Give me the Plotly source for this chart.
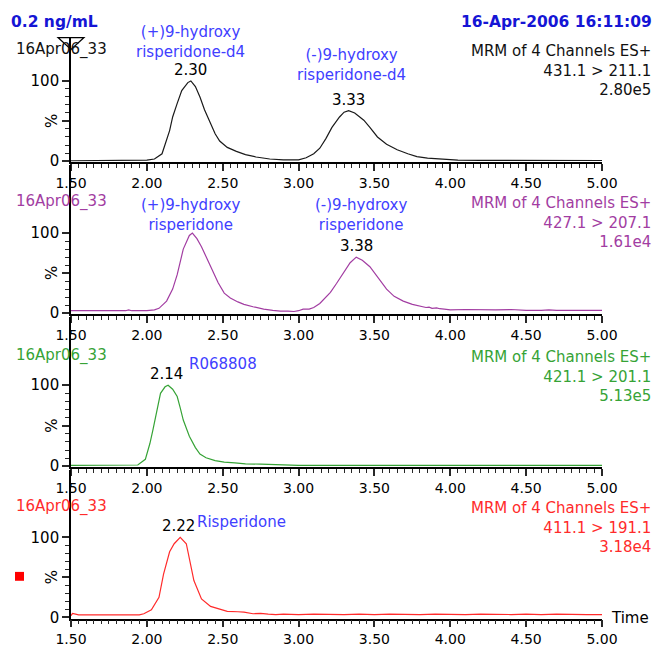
import plotly.graph_objects as go

# ---------------- data ----------------
t_431 = [1.50, 1.60, 1.70, 1.80, 1.90, 2.00, 2.05, 2.10, 2.15, 2.17, 2.20, 2.23, 2.27, 2.29,
         2.32, 2.35, 2.38, 2.42, 2.45, 2.48, 2.53, 2.59, 2.65, 2.72, 2.81, 2.90, 3.00, 3.05,
         3.10, 3.14, 3.18, 3.22, 3.27, 3.30, 3.33, 3.37, 3.43, 3.47, 3.52, 3.58, 3.65, 3.72,
         3.78, 3.85, 3.95, 4.05, 4.20, 4.40, 4.60, 4.80, 5.00]
i_431 = [0.3, 0.3, 0.3, 0.3, 0.4, 1.0, 2.5, 9, 38, 55, 72, 88, 98, 100,
         93, 80, 64, 46, 34, 25, 17, 12, 8, 5, 2.5, 1.5, 1.5, 4,
         9, 16, 28, 42, 55, 61, 63, 60, 51, 42, 30, 21, 14, 9,
         5.5, 3.5, 2, 1.2, 0.8, 0.7, 0.6, 0.6, 0.6]

t_427 = [1.50, 1.60, 1.70, 1.80, 1.86, 1.88, 1.90, 2.00, 2.05, 2.08, 2.13, 2.17, 2.20, 2.24,
         2.28, 2.30, 2.33, 2.36, 2.40, 2.43, 2.47, 2.51, 2.55, 2.60, 2.64, 2.70, 2.77, 2.83,
         2.88, 2.93, 2.97, 3.00, 3.03, 3.07, 3.10, 3.14, 3.18, 3.21, 3.25, 3.30, 3.34, 3.38,
         3.42, 3.47, 3.52, 3.58, 3.63, 3.69, 3.75, 3.80, 3.84, 3.86, 3.88, 3.91, 3.93, 3.96,
         4.00, 4.10, 4.20, 4.30, 4.40, 4.50, 4.60, 4.65, 4.70, 4.80, 4.85, 4.90, 5.00]
i_427 = [3, 3, 3, 3, 3, 4, 3, 3, 4, 6, 15, 30, 48, 80,
         97, 100, 93, 83, 67, 54, 38, 25, 19, 14, 11, 8, 5, 3.5,
         2.5, 2.5, 2, 3, 5, 5, 7, 12, 20, 26, 37, 52, 63, 70,
         66, 58, 45, 30, 21, 15, 11, 9, 7, 7.5, 6, 6.5, 5.5, 5,
         4, 4.5, 4, 4, 4.5, 3.5, 3.5, 4, 3.5, 3.5, 4, 3.5, 3.5]

t_421 = [1.50, 1.70, 1.90, 1.94, 1.99, 2.02, 2.04, 2.07, 2.09, 2.12, 2.14, 2.17, 2.20, 2.22,
         2.24, 2.28, 2.32, 2.35, 2.39, 2.45, 2.51, 2.58, 2.65, 2.75, 2.84, 2.86, 3.00, 3.50,
         4.00, 4.50, 5.00]
i_421 = [1, 1, 1, 1.5, 8.5, 28, 45, 72, 90, 98, 100, 95, 86, 72,
         57, 37, 23, 15, 10.5, 7, 5, 4, 3, 2.5, 2, 1, 1, 1,
         1, 1, 1]

t_411 = [1.50, 1.51, 1.53, 1.55, 1.60, 1.70, 1.80, 1.90, 1.95, 1.98, 2.03, 2.08, 2.11, 2.15,
         2.18, 2.22, 2.26, 2.31, 2.36, 2.42, 2.48, 2.53, 2.60, 2.64, 2.70, 2.75, 2.80, 2.85,
         2.90, 2.95, 3.00, 3.10, 3.20, 3.30, 3.40, 3.50, 3.60, 3.70, 3.80, 3.90, 4.00, 4.10,
         4.20, 4.30, 4.40, 4.50, 4.60, 4.70, 4.80, 4.90, 5.00]
i_411 = [2, 5, 4, 3, 3, 3, 3, 3, 3, 4.5, 9.5, 25, 54, 82,
         92, 100, 92, 46, 23, 13.6, 10.7, 7.4, 7, 6.6, 4.5, 5, 4, 3.5,
         4, 3.5, 3.5, 4, 3.5, 3.5, 4, 3.5, 4, 3.5, 3.5, 4, 3.5, 3.5,
         4, 3.5, 3.5, 4, 3.5, 4, 3.5, 3.5, 3.5]

channels = ["431.1 > 211.1", "427.1 > 207.1", "421.1 > 201.1", "411.1 > 191.1"]
intensities = ["2.80e5", "1.61e4", "5.13e5", "3.18e4"]
sample_name = "16Apr06_33"
peak_rt = [["2.30", "3.33"], ["3.38"], ["2.14"], ["2.22"]]
peak_rt_x = [[2.29, 3.33], [3.38], [2.13], [2.21]]
peak_rt_y = [[100, 63], [70], [100], [100]]

# ---------------- layout helpers ----------------
W, H = 655, 652
L, R = 71, 53
def px(xp):
    return (xp - L) / (W - L - R)
def py(yp):
    return 1 - yp / H

FONT = "DejaVu Sans"
BLACK = "#111111"
PURPLE = "#a23da2"
GREEN = "#36a336"
RED = "#ff2b2b"
LBLUE = "#4040ff"
HBLUE = "#1515d5"
TICKC = "rgb(40,40,40)"

series = [(t_431, i_431, "#1a1a1a", BLACK),
          (t_427, i_427, PURPLE, PURPLE),
          (t_421, i_421, GREEN, GREEN),
          (t_411, i_411, RED, RED)]
geom = [(163, 82, 38), (317, 236, 167), (472, 390, 321), (625, 544, 476)]

fig = go.Figure()
annotations = []
shapes = []
major_x = [round(1.5 + 0.25 * k, 2) for k in range(15)]
major_x_text = [f"{v:.2f}" if abs((v * 2) - round(v * 2)) < 1e-9 else "" for v in major_x]
minor_x = [round(1.5 + 0.05 * k, 2) for k in range(71)]
minor_y = [10, 20, 30, 40, 60, 70, 80, 90]

for k, ((tx, iy, lc, tc), (z, h, top)) in enumerate(zip(series, geom)):
    n = k + 1
    xa = "x" if n == 1 else f"x{n}"
    ya = "y" if n == 1 else f"y{n}"
    fig.add_trace(go.Scatter(x=tx, y=iy, mode="lines", line=dict(color=lc, width=1.2),
                             xaxis=xa, yaxis=ya, showlegend=False, hoverinfo="skip"))
    scale = (z - h) / 100.0
    ymin = -1.5
    bottom = z + 1.5 * scale
    ymax = (z - top) / scale
    dom = [py(bottom), py(top)]
    xk = "xaxis" if n == 1 else f"xaxis{n}"
    yk = "yaxis" if n == 1 else f"yaxis{n}"
    xd = dict(domain=[0, 1], anchor=ya, range=[1.5, 5.0],
              tickmode="array", tickvals=major_x, ticktext=major_x_text,
              ticks="outside", ticklen=7, tickwidth=1.5, tickcolor=TICKC,
              showline=True, linecolor="black", linewidth=1.6,
              showgrid=False, zeroline=False,
              tickfont=dict(family=FONT, size=14, color="black"),
              minor=dict(tickmode="array", tickvals=minor_x, ticks="outside", ticklen=4,
                         tickwidth=1.2, tickcolor=TICKC, showgrid=False))
    yd = dict(domain=dom, anchor=xa, range=[ymin, ymax],
              tickmode="array", tickvals=[0, 50, 100], ticktext=["0", "", "100"],
              ticks="outside", ticklen=7, tickwidth=1.5, tickcolor=TICKC,
              showline=True, linecolor="black", linewidth=1.6,
              showgrid=False, zeroline=False,
              tickfont=dict(family=FONT, size=15, color="black"),
              minor=dict(tickmode="array", tickvals=minor_y, ticks="outside", ticklen=4,
                         tickwidth=1.2, tickcolor=TICKC, showgrid=False))
    fig.update_layout({xk: xd, yk: yd})
    annotations.append(dict(text="%", xref="paper", yref=ya, x=px(52), y=50, textangle=-90,
                            xanchor="center", yanchor="middle",
                            showarrow=False, font=dict(family=FONT, size=15, color="black")))
    lab_y = [50, 204, 360, 513][k]
    annotations.append(dict(text=sample_name, xref="paper", yref="paper", x=px(14), y=py(lab_y),
                            xanchor="left", yanchor="middle", showarrow=False,
                            font=dict(family=FONT, size=15, color=tc)))
    annotations.append(dict(text="MRM of 4 Channels ES+<br>" + channels[k] + "<br>" + intensities[k],
                            xref="paper", yref="paper", x=px(653), y=py(lab_y - 10),
                            xanchor="right", yanchor="top", align="right", showarrow=False,
                            font=dict(family=FONT, size=15, color=tc)))
    for txt, xv, yv in zip(peak_rt[k], peak_rt_x[k], peak_rt_y[k]):
        annotations.append(dict(text=txt, xref=xa, yref=ya, x=xv, y=yv, xanchor="center",
                                yanchor="bottom", showarrow=False,
                                font=dict(family=FONT, size=15, color="black")))

annotations += [
    dict(text="(+)9-hydroxy<br>risperidone-d4", xref="x", yref="paper", x=2.29, y=py(43),
         font=dict(family=FONT, size=15, color=LBLUE)),
    dict(text="(-)9-hydroxy<br>risperidone-d4", xref="x", yref="paper", x=3.35, y=py(66),
         font=dict(family=FONT, size=15, color=LBLUE)),
    dict(text="(+)9-hydroxy<br>risperidone", xref="x2", yref="paper", x=2.29, y=py(218),
         font=dict(family=FONT, size=15, color=LBLUE)),
    dict(text="(-)9-hydroxy<br>risperidone", xref="x2", yref="paper", x=3.41, y=py(218),
         font=dict(family=FONT, size=15, color=LBLUE)),
    dict(text="R068808", xref="x3", yref="paper", x=2.50, y=py(369),
         font=dict(family=FONT, size=15, color=LBLUE)),
    dict(text="Risperidone", xref="paper", yref="paper", x=px(195), y=py(528), xanchor="left",
         font=dict(family=FONT, size=15, color=LBLUE)),
]
for a in annotations[-6:]:
    a["showarrow"] = False
    a.setdefault("xanchor", "center")
    a["yanchor"] = "middle"

annotations += [
    dict(text="<b>0.2 ng/mL</b>", xref="paper", yref="paper", x=px(9), y=py(22),
         xanchor="left", yanchor="middle", showarrow=False,
         font=dict(family=FONT, size=15.5, color=HBLUE)),
    dict(text="<b>16-Apr-2006 16:11:09</b>", xref="paper", yref="paper", x=px(654), y=py(22),
         xanchor="right", yanchor="middle", showarrow=False,
         font=dict(family=FONT, size=15.5, color=HBLUE)),
    dict(text="Time", xref="paper", yref="paper", x=px(609), y=py(626),
         xanchor="left", yanchor="middle", showarrow=False,
         font=dict(family=FONT, size=15, color="black")),
]

tri = "M{0},{1} L{2},{1} L{3},{4} Z".format(px(58), py(38), px(84), px(71), py(50))
shapes += [
    dict(type="path", xref="paper", yref="paper", path=tri,
         line=dict(color="black", width=1.2), fillcolor="rgba(0,0,0,0)"),
    dict(type="rect", xref="paper", yref="paper", x0=px(15), x1=px(24), y0=py(588), y1=py(579),
         fillcolor="#ff0000", line=dict(width=0)),
]

fig.update_layout(width=W, height=H, margin=dict(l=L, r=R, t=0, b=0),
                  paper_bgcolor="white", plot_bgcolor="rgba(0,0,0,0)",
                  annotations=annotations, shapes=shapes,
                  font=dict(family=FONT, size=15, color="black"))
fig.write_html("out.html")
